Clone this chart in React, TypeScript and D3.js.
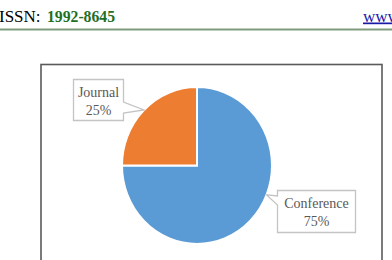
import React from "react";
import * as d3 from "d3";

const categories = ["Conference", "Journal"];
const values = [75, 25];
const percentLabels = ["75%", "25%"];
const colors = ["#5B9BD5", "#ED7D31"];

// label box layout (annotation positions)
const labelBoxes = [
  { x: 277.5, y: 190.5, w: 78, h: 42, tipDeg: 112, baseY0: 196, baseY1: 205, side: "left" },
  { x: 73.5, y: 79.5, w: 50, h: 41, tipDeg: 315, baseY0: 102, baseY1: 113, side: "right" },
];

const W = 392;
const H = 260;
const cx = 197;
const cy = 165.5;
const r = 75;
const sy = 78.5 / 75;

export default function App() {
  const pie = d3.pie<number>().sort(null).value((d) => d);
  const arcs = pie(values);
  const arcGen = d3.arc<d3.PieArcDatum<number>>().innerRadius(0).outerRadius(r);

  return (
    <svg
      width={W}
      height={H}
      style={{ position: "absolute", left: 0, top: 0, background: "#fff" }}
      fontFamily="'Liberation Serif', 'Times New Roman', serif"
    >
      <rect x={0} y={0} width={W} height={H} fill="#fff" />
      {/* header */}
      <text x={-1} y={21.5} fontSize={17} fill="#000">ISSN:</text>
      <text x={47} y={21.5} fontSize={16.5} fontWeight="bold" fill="#1f6f1f" textLength={68} lengthAdjust="spacingAndGlyphs">1992-8645</text>
      <text x={363} y={21.5} fontSize={17} fill="#1a1aa8" textDecoration="underline">www</text>
      <line x1={0} x2={W} y1={29.5} y2={29.5} stroke="#7f9c7f" strokeWidth={2} />

      {/* frame */}
      <rect x={41} y={64.5} width={341} height={220} fill="#fff" stroke="#5a5a5a" strokeWidth={1.6} />

      {/* pie */}
      <g transform={`translate(${cx},${cy}) scale(1,${sy})`}>
        {arcs.map((a, i) => (
          <path key={categories[i]} d={arcGen(a) || ""} fill={colors[i]} stroke="#fff" strokeWidth={2} />
        ))}
      </g>

      {/* data labels */}
      {labelBoxes.map((b, i) => {
        const ang = (b.tipDeg * Math.PI) / 180;
        const tx = cx + r * Math.sin(ang);
        const ty = cy - r * sy * Math.cos(ang);
        const bx = b.side === "left" ? b.x : b.x + b.w;
        const pts =
          b.side === "left"
            ? [
                [b.x, b.y],
                [b.x + b.w, b.y],
                [b.x + b.w, b.y + b.h],
                [b.x, b.y + b.h],
                [b.x, b.baseY1],
                [tx, ty],
                [b.x, b.baseY0],
              ]
            : [
                [b.x, b.y],
                [b.x + b.w, b.y],
                [bx, b.baseY0],
                [tx, ty],
                [bx, b.baseY1],
                [b.x + b.w, b.y + b.h],
                [b.x, b.y + b.h],
              ];
        const d = "M" + pts.map((p) => p.join(",")).join("L") + "Z";
        return (
          <g key={"lbl" + i}>
            <path d={d} fill="#fff" stroke="#c4c4c4" strokeWidth={1.3} />
            <text
              x={b.x + b.w / 2}
              y={b.y + 17.5}
              textAnchor="middle"
              fontSize={14}
              fill="#595959"
            >
              {categories[i]}
            </text>
            <text
              x={b.x + b.w / 2}
              y={b.y + 35}
              textAnchor="middle"
              fontSize={14}
              fill="#595959"
            >
              {percentLabels[i]}
            </text>
          </g>
        );
      })}
    </svg>
  );
}
